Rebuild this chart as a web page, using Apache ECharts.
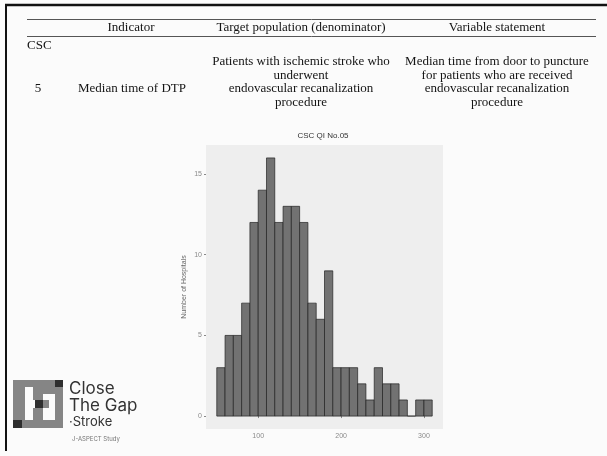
<!DOCTYPE html>
<html>
<head>
<meta charset="utf-8">
<script src="https://cdn.jsdelivr.net/npm/echarts@6/dist/echarts.min.js"></script>
<style>
  html, body { margin: 0; padding: 0; background: #fbfbfb; }
  #chart { width: 607px; height: 456px; }
</style>
</head>
<body>
<div id="chart"></div>
<script>
// Histogram of median door-to-puncture time per hospital
const binLeft = [50, 60, 70, 80, 90, 100, 110, 120, 130, 140, 150, 160, 170,
                 180, 190, 200, 210, 220, 230, 240, 250, 260, 270, 280, 290, 300];
const binWidth = 10;
const hospitalCounts = [3, 5, 5, 7, 12, 14, 16, 12, 13, 13, 12, 7, 6,
                        9, 3, 3, 3, 2, 1, 3, 2, 2, 1, 0, 1, 1];
const xTicks = [100, 200, 300];
const yTicks = [0, 5, 10, 15];

// Table text
const headers = ['Indicator', 'Target population (denominator)', 'Variable statement'];
const targetLines = ['Patients with ischemic stroke who', 'underwent',
                     'endovascular recanalization', 'procedure'];
const statementLines = ['Median time from door to puncture', 'for patients who are received',
                        'endovascular recanalization', 'procedure'];

const chart = echarts.init(document.getElementById('chart'), null, { renderer: 'canvas' });

const serif = '"Liberation Serif", "DejaVu Serif", serif';
const sans = '"Liberation Sans", Arial, sans-serif';
const ink = '#141414';

function textEl(x, y, text, size, align, font, color) {
  return {
    type: 'text', x: x, y: y,
    style: { text: text, font: size + 'px ' + font, fill: color || ink,
             textAlign: align || 'left', textVerticalAlign: 'middle' }
  };
}

const graphics = [
  // frame
  { type: 'line', shape: { x1: 5, y1: 5, x2: 607, y2: 5 }, style: { stroke: '#111', lineWidth: 2.5 } },
  { type: 'line', shape: { x1: 6, y1: 5, x2: 6, y2: 451 }, style: { stroke: '#111', lineWidth: 2 } },
  // table rules
  { type: 'line', shape: { x1: 27, y1: 19.5, x2: 596, y2: 19.5 }, style: { stroke: '#555', lineWidth: 1 } },
  { type: 'line', shape: { x1: 27, y1: 36.5, x2: 596, y2: 36.5 }, style: { stroke: '#555', lineWidth: 1 } },
  textEl(131, 28, headers[0], 13, 'center', serif),
  textEl(301, 28, headers[1], 13, 'center', serif),
  textEl(497, 28, headers[2], 13, 'center', serif),
  textEl(27, 46, 'CSC', 13, 'left', serif),
  textEl(38, 89, '5', 13, 'center', serif),
  textEl(132, 89, 'Median time of DTP', 13, 'center', serif)
];
targetLines.forEach((t, i) => graphics.push(textEl(301, 62 + i * 13.4, t, 13, 'center', serif)));
statementLines.forEach((t, i) => graphics.push(textEl(497, 62 + i * 13.4, t, 13, 'center', serif)));

// chart title
graphics.push(textEl(323, 136, 'CSC QI No.05', 8, 'center', sans, '#333'));

// logo mark
const grey = '#858585', dark = '#2e2e2e';
[
  [13, 380, 42, 7, grey], [13, 380, 12, 40, grey], [33, 387, 10, 13, grey],
  [43, 387, 20, 7, grey], [55, 387, 8, 41, grey], [33, 408, 10, 12, grey],
  [22, 420, 41, 8, grey], [43, 400, 6, 8, grey]
].forEach(r => graphics.push({ type: 'rect', shape: { x: r[0], y: r[1], width: r[2], height: r[3] }, style: { fill: r[4] } }));
[[55, 380, 8, 7], [35, 400, 8, 8], [13, 420, 9, 8]].forEach(r =>
  graphics.push({ type: 'rect', shape: { x: r[0], y: r[1], width: r[2], height: r[3] }, style: { fill: dark } }));
const logoFont = '"Inter", "Lato", sans-serif';
graphics.push(textEl(69, 389, 'Close', 17, 'left', logoFont, '#333'));
graphics.push(textEl(69, 406, 'The Gap', 17, 'left', logoFont, '#333'));
graphics.push(textEl(69, 422, '·Stroke', 13, 'left', logoFont, '#333'));
graphics.push(textEl(72, 439, 'J-ASPECT Study', 6, 'left', logoFont, '#777'));

const option = {
  animation: false,
  backgroundColor: '#fbfbfb',
  grid: { left: 206, top: 145, width: 237, height: 284, backgroundColor: '#eeeeee', show: true, borderWidth: 0 },
  xAxis: {
    type: 'value', min: 37, max: 323,
    axisLine: { show: false },
    axisTick: { show: true, length: 2, lineStyle: { color: '#888' }, customValues: xTicks },
    axisLabel: { customValues: xTicks, color: '#8a8a8a', fontSize: 7, fontFamily: sans, margin: 4 },
    splitLine: { show: false }
  },
  yAxis: {
    type: 'value', min: -0.8, max: 16.8,
    name: 'Number of Hospitals', nameLocation: 'middle', nameRotate: 90, nameGap: 18,
    nameTextStyle: { color: '#666', fontSize: 7, fontFamily: sans },
    axisLine: { show: false },
    axisTick: { show: true, length: 2, lineStyle: { color: '#888' }, customValues: yTicks },
    axisLabel: { customValues: yTicks, color: '#8a8a8a', fontSize: 7, fontFamily: sans, margin: 4 },
    splitLine: { show: false }
  },
  series: [{
    type: 'custom',
    data: binLeft.map((b, i) => [b, b + binWidth, hospitalCounts[i]]),
    renderItem: function (params, api) {
      const p0 = api.coord([api.value(0), api.value(2)]);
      const p1 = api.coord([api.value(1), 0]);
      return {
        type: 'rect',
        shape: { x: p0[0], y: p0[1], width: p1[0] - p0[0], height: p1[1] - p0[1] },
        style: { fill: '#727272', stroke: '#222', lineWidth: 0.7 }
      };
    },
    encode: { x: [0, 1], y: 2 }
  }],
  graphic: graphics
};
chart.setOption(option);
</script>
</body>
</html>
